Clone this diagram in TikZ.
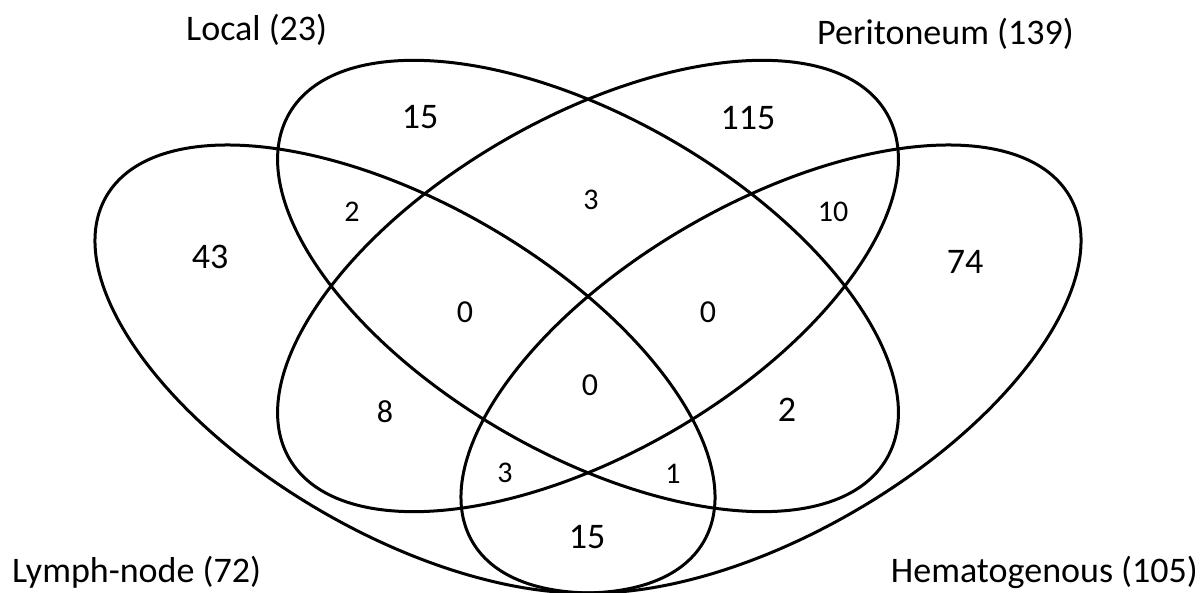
\documentclass[tikz,border=0pt]{standalone}
\usepackage{fontspec}
\setmainfont{Carlito}
\usetikzlibrary{shapes.geometric}
\begin{document}
\begin{tikzpicture}[x=1pt,y=1pt,
  venn/.style={draw=black, line width=3pt, ellipse, inner sep=0pt, outer sep=0pt},
  bignum/.style={font=\fontsize{36}{40}\selectfont, inner sep=0pt},
  midnum/.style={font=\fontsize{32}{36}\selectfont, inner sep=0pt},
  smallnum/.style={font=\fontsize{30}{34}\selectfont, inner sep=0pt},
  setlabel/.style={font=\fontsize{36}{40}\selectfont, inner sep=0pt}]
\useasboundingbox (0,0) rectangle (1204,593);
% sets
\node[venn, minimum width=690, minimum height=330, rotate=-30] (lymph) at (405,224) {};
\node[venn, minimum width=690, minimum height=336, rotate=-30] (local) at (588,307) {};
\node[venn, minimum width=690, minimum height=336, rotate=30] (perit) at (588,307) {};
\node[venn, minimum width=690, minimum height=330, rotate=30] (hemat) at (771,224) {};
% set labels
\node[setlabel, anchor=base west] (lLocal) at (186,552) {Local (23)};
\node[setlabel, anchor=base west] (lPerit) at (817,548) {Peritoneum (139)};
\node[setlabel, anchor=base west] (lLymph) at (12,10) {Lymph-node (72)};
\node[setlabel, anchor=base east] (lHemat) at (1198,10) {Hematogenous (105)};
% region counts
\node[bignum] (n43) at (210,336) {43};
\node[bignum] (n15a) at (420,476) {15};
\node[smallnum] (n2a) at (352,381) {2};
\node[bignum] (n115) at (748,475) {115};
\node[smallnum] (n3a) at (591,393) {3};
\node[smallnum] (n10) at (833,381) {10};
\node[bignum] (n74) at (965,331) {74};
\node[midnum] (n0a) at (465,281) {0};
\node[midnum] (n0b) at (708,281) {0};
\node[midnum] (n0c) at (590,208) {0};
\node[midnum] (n8) at (385,181) {8};
\node[bignum] (n2b) at (787,183) {2};
\node[smallnum] (n3b) at (505,120) {3};
\node[smallnum] (n1) at (673,119) {1};
\node[bignum] (n15b) at (587,56) {15};
\end{tikzpicture}
\end{document}
